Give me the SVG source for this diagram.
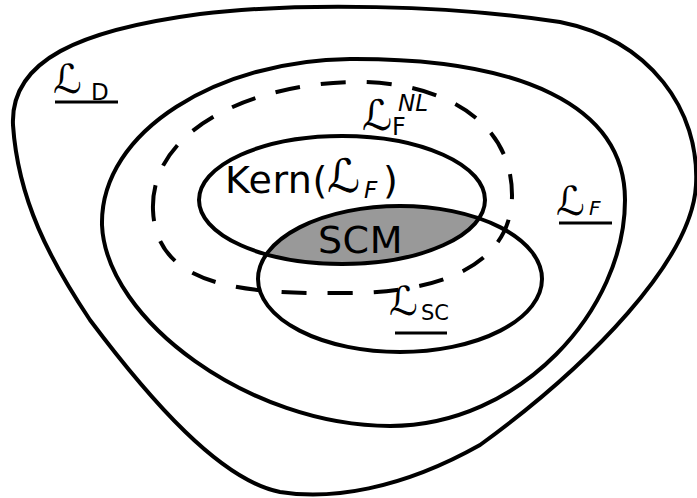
<svg xmlns="http://www.w3.org/2000/svg" width="697" height="498" viewBox="0 0 697 498">
<style>
.c{fill:none;stroke:#000;stroke-width:4}
.d{fill:none;stroke:#000;stroke-width:4;stroke-dasharray:25 21}
.u{stroke:#000;stroke-width:3}
text{font-family:"DejaVu Sans",sans-serif;fill:#000}
.big{font-size:38px;letter-spacing:0.5px}
.L{font-size:40px}
.i{font-style:italic}
</style>
<defs>
<clipPath id="kc"><ellipse cx="342" cy="200" rx="143" ry="64"/></clipPath>
</defs>
<g id="LD">
<path class="c" d="M 13,125 C 10,60 80,30 200,14 C 300,2 450,5 560,22 C 650,40 700,110 696,185 C 692,260 590,365 480,445 C 400,490 330,500 280,492 C 220,480 150,400 90,320 C 50,260 18,200 13,125 Z"/>
<text x="53" y="93" class="L">ℒ</text><text x="91" y="100" font-size="23">D</text>
<line class="u" x1="55" y1="102" x2="118" y2="102"/>
</g>
<g id="LF">
<path class="c" d="M 102,225 C 100,130 220,60 350,59 C 520,58 625,105 625,200 C 625,310 520,426 390,426 C 250,426 106,320 102,225 Z"/>
<text x="556" y="215" class="L">ℒ</text><text x="589" y="215" font-size="20" class="i">F</text>
<line class="u" x1="559" y1="223" x2="612" y2="223"/>
</g>
<g id="LFNL">
<path class="d" d="M 153,210 C 150,130 250,85 350,82 C 440,80 512,120 512,195 C 512,260 450,292 350,293 C 250,294 156,290 153,210 Z"/>
<text x="362" y="130" font-size="42">ℒ</text><text x="392" y="135" font-size="24">F</text><text x="398" y="111" font-size="23" class="i">NL</text>
</g>
<g id="SCM">
<ellipse cx="400" cy="279" rx="142" ry="73" fill="#999" clip-path="url(#kc)"/>
<text x="318" y="253" class="big" letter-spacing="2">SCM</text>
</g>
<g id="Kern">
<ellipse class="c" cx="342" cy="200" rx="143" ry="64"/>
<text x="225" y="193" class="big">Kern(</text>
<text x="327" y="192" font-size="46">ℒ</text>
<text x="364" y="198" font-size="23" class="i">F</text>
<text x="383" y="193" font-size="38">)</text>
</g>
<g id="LSC">
<ellipse class="c" cx="400" cy="279" rx="142" ry="73"/>
<text x="389" y="315" class="L">ℒ</text><text x="421" y="320" font-size="21">SC</text>
<line class="u" x1="395" y1="333" x2="447" y2="333"/>
</g>
</svg>
